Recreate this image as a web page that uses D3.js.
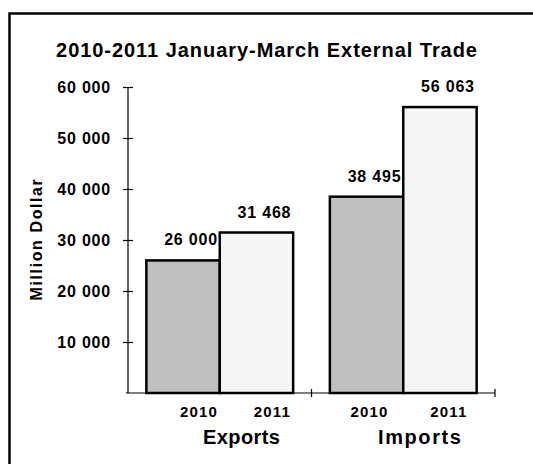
<!DOCTYPE html>
<html>
<head>
<meta charset="utf-8">
<script src="https://cdn.jsdelivr.net/npm/d3@7"></script>
<style>
body { margin: 0; background: #fff; }
text { font-family: "Liberation Sans", Arial, sans-serif; font-weight: bold; fill: #000; }
</style>
</head>
<body>
<div id="chart"></div>
<script>
let groups = ["Exports", "Imports"];
let years = ["2010", "2011"];
let values2010 = [26000, 38495];
let values2011 = [31468, 56063];
let valueLabels2010 = ["26 000", "38 495"];
let valueLabels2011 = ["31 468", "56 063"];
let yTicks = [10000, 20000, 30000, 40000, 50000, 60000];
let yTickLabels = ["10 000", "20 000", "30 000", "40 000", "50 000", "60 000"];
let yearColors = ["#c0c0c0", "#f5f5f5"];

let width = 533, height = 464;
let plotLeft = 128, plotRight = 495, plotTop = 87, plotBottom = 393;
// the category texts sit a little right of the bar centres in the original
let yearShift = [[16, 16], [3, 9]];
let groupShift = [22, 17];

let svg = d3.select("#chart")
    .append("svg")
    .attr("width", width)
    .attr("height", height);

// frame, runs off the right and bottom edges
svg.append("rect")
    .attr("x", 9.5).attr("y", 13.5)
    .attr("width", 560).attr("height", 500)
    .attr("fill", "#fff")
    .attr("stroke", "#000")
    .attr("stroke-width", 2.5);

let y = d3.scaleLinear().domain([0, 60000]).range([plotBottom, plotTop]);
let x0 = d3.scaleBand().domain(groups).range([plotLeft, plotRight]).paddingInner(0).paddingOuter(0);
let x1 = d3.scaleBand().domain(years).range([0, x0.bandwidth()]).paddingOuter(0.25);

// y axis
let yAxis = d3.axisLeft(y).tickValues(yTicks)
    .tickFormat((d, i) => yTickLabels[i])
    .tickSize(5).tickSizeOuter(0).tickPadding(12);
let ya = svg.append("g").attr("transform", "translate(" + plotLeft + ",0)").call(yAxis);
ya.select(".domain").attr("stroke", "#000").attr("stroke-width", 1.2)
    .attr("d", "M0," + plotTop + "V" + plotBottom);
ya.selectAll(".tick line").attr("x1", -5).attr("x2", 5).attr("stroke", "#000").attr("stroke-width", 1.2);
ya.selectAll(".tick text").style("font-size", "16px").style("letter-spacing", "0.8px")
    .style("font-family", "'Liberation Sans', Arial, sans-serif").style("font-weight", "bold")
    .attr("x", -17).attr("dy", "0.36em");

// bars + labels
let g = svg.append("g");
groups.forEach((grp, gi) => {
    let vals = [values2010[gi], values2011[gi]];
    let labs = [valueLabels2010[gi], valueLabels2011[gi]];
    years.forEach((yr, yi) => {
        let bx = x0(grp) + x1(yr);
        let cx = bx + x1.bandwidth() / 2;
        g.append("rect")
            .attr("x", bx)
            .attr("y", y(vals[yi]))
            .attr("width", x1.bandwidth())
            .attr("height", plotBottom - y(vals[yi]))
            .attr("fill", yearColors[yi])
            .attr("stroke", "#000")
            .attr("stroke-width", 2.5);
        g.append("text")
            .attr("x", cx + 8)
            .attr("y", y(vals[yi]) - 15)
            .attr("text-anchor", "middle")
            .style("font-size", "16px")
            .style("letter-spacing", "0.8px")
            .text(labs[yi]);
        g.append("text")
            .attr("x", cx + yearShift[gi][yi])
            .attr("y", plotBottom + 24)
            .attr("text-anchor", "middle")
            .style("font-size", "15px")
            .style("letter-spacing", "1.2px")
            .text(yr);
    });
    g.append("text")
        .attr("x", x0(grp) + x0.bandwidth() / 2 + groupShift[gi])
        .attr("y", plotBottom + 51)
        .attr("text-anchor", "middle")
        .style("font-size", "20px")
        .style("letter-spacing", gi ? "1.6px" : "0.4px")
        .text(grp);
});

// x axis
let xa = svg.append("g");
xa.append("line")
    .attr("x1", plotLeft - 2).attr("x2", plotRight)
    .attr("y1", plotBottom).attr("y2", plotBottom)
    .attr("stroke", "#000").attr("stroke-width", 1.2);
xa.selectAll(".xt").data(groups).enter().append("line")
    .attr("x1", d => x0(d) + x0.bandwidth()).attr("x2", d => x0(d) + x0.bandwidth())
    .attr("y1", plotBottom - 4).attr("y2", plotBottom + 4)
    .attr("stroke", "#000").attr("stroke-width", 1.2);

// titles
svg.append("text")
    .attr("x", 267).attr("y", 57)
    .attr("text-anchor", "middle")
    .style("font-size", "20px")
    .style("letter-spacing", "0.95px")
    .text("2010-2011 January-March External Trade");

svg.append("text")
    .attr("transform", "translate(42,239) rotate(-90)")
    .attr("text-anchor", "middle")
    .style("font-size", "16px")
    .style("letter-spacing", "1.6px")
    .text("Million Dollar");
</script>
</body>
</html>
